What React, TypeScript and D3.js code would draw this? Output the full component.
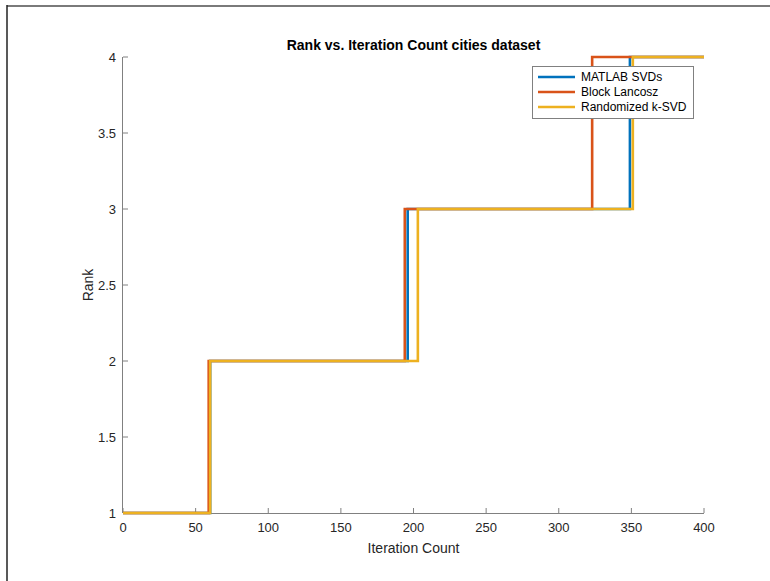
import React from "react";
import * as d3 from "d3";

const seriesNames = ["MATLAB SVDs", "Block Lancosz", "Randomized k-SVD"];
const seriesColors = ["#0072BD", "#D95319", "#EDB120"];
// Iteration counts where each series' rank steps up, with the rank values
const blueIters = [0, 60, 196, 349, 400];
const blueRanks = [1, 2, 3, 4, 4];
const orangeIters = [0, 59, 194, 323, 400];
const orangeRanks = [1, 2, 3, 4, 4];
const yellowIters = [0, 60, 203, 351, 400];
const yellowRanks = [1, 2, 3, 4, 4];

const xTicks = [0, 50, 100, 150, 200, 250, 300, 350, 400];
const yTicks = [1, 1.5, 2, 2.5, 3, 3.5, 4];

const W = 770;
const H = 581;
const FONT = "'Liberation Sans', Arial, Helvetica, sans-serif";

export default function App() {
  const x = d3.scaleLinear().domain([0, 400]).range([123, 704]);
  const y = d3.scaleLinear().domain([1, 4]).range([513, 57]);
  const line = d3
    .line<[number, number]>()
    .x((d) => x(d[0]))
    .y((d) => y(d[1]))
    .curve(d3.curveStepAfter);

  const series = [
    blueIters.map((v, i) => [v, blueRanks[i]] as [number, number]),
    orangeIters.map((v, i) => [v, orangeRanks[i]] as [number, number]),
    yellowIters.map((v, i) => [v, yellowRanks[i]] as [number, number]),
  ];

  const axisColor = "#808080";
  const textColor = "#262626";
  const x0 = x.range()[0];
  const x1 = x.range()[1];
  const y0 = y.range()[0];
  const y1 = y.range()[1];

  const legX = 532;
  const legY = 66;
  const legW = 161;
  const legH = 52;

  return (
    <svg
      width={W}
      height={H}
      style={{ position: "absolute", left: 0, top: 0, background: "#fff" }}
      fontFamily={FONT}
    >
      <rect x={0} y={0} width={W} height={H} fill="#fff" />
      {/* frame edges */}
      <line x1={7} x2={W} y1={6} y2={6} stroke="#7a7a7a" strokeWidth={2} />
      <line x1={7} x2={7} y1={5} y2={H} stroke="#222" strokeWidth={1.5} />

      {/* axes */}
      <line x1={x0} x2={x1} y1={y0 + 0.5} y2={y0 + 0.5} stroke={axisColor} strokeWidth={1} />
      <line x1={x0 - 0.5} x2={x0 - 0.5} y1={y0} y2={y1} stroke={axisColor} strokeWidth={1} />
      {xTicks.map((t) => (
        <g key={"xt" + t}>
          <line x1={x(t)} x2={x(t)} y1={y0} y2={y0 - 5} stroke={axisColor} />
          <text
            x={x(t)}
            y={y0 + 19}
            textAnchor="middle"
            fontSize={13}
            fill={textColor}
          >
            {t}
          </text>
        </g>
      ))}
      {yTicks.map((t) => (
        <g key={"yt" + t}>
          <line x1={x0} x2={x0 + 5} y1={y(t)} y2={y(t)} stroke={axisColor} />
          <text
            x={x0 - 7}
            y={y(t)}
            dy="0.35em"
            textAnchor="end"
            fontSize={13}
            fill={textColor}
          >
            {t}
          </text>
        </g>
      ))}

      {/* lines */}
      {series.map((s, i) => (
        <path
          key={"s" + i}
          d={line(s) || ""}
          fill="none"
          stroke={seriesColors[i]}
          strokeWidth={2.6}
        />
      ))}

      {/* labels */}
      <text
        x={(x0 + x1) / 2}
        y={50}
        textAnchor="middle"
        fontSize={14}
        fontWeight="bold"
        fill="#000"
      >
        Rank vs. Iteration Count cities dataset
      </text>
      <text
        x={(x0 + x1) / 2}
        y={553}
        textAnchor="middle"
        fontSize={14}
        fill={textColor}
      >
        Iteration Count
      </text>
      <text
        transform={`translate(93, ${(y0 + y1) / 2}) rotate(-90)`}
        textAnchor="middle"
        fontSize={14}
        fill={textColor}
      >
        Rank
      </text>

      {/* legend */}
      <rect
        x={legX + 0.5}
        y={legY + 0.5}
        width={legW}
        height={legH}
        fill="#fff"
        stroke="#808080"
        strokeWidth={1}
      />
      {seriesNames.map((n, i) => (
        <g key={"l" + i}>
          <line
            x1={legX + 6}
            x2={legX + 43}
            y1={legY + 11 + i * 15}
            y2={legY + 11 + i * 15}
            stroke={seriesColors[i]}
            strokeWidth={2.6}
          />
          <text
            x={legX + 49}
            y={legY + 11 + i * 15}
            dy="0.35em"
            fontSize={12}
            fill="#000"
          >
            {n}
          </text>
        </g>
      ))}
    </svg>
  );
}
